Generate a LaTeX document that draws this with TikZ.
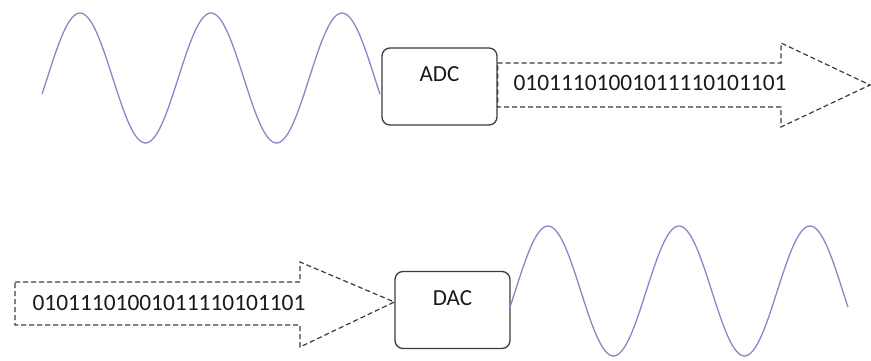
\documentclass[tikz,border=0pt]{standalone}
\usepackage{fontspec}
\setmainfont{Carlito}
\usetikzlibrary{positioning,calc}
\definecolor{wavecol}{RGB}{135,135,200}
\definecolor{linecol}{RGB}{60,60,60}
\tikzset{
  conv/.style={draw=linecol,line width=1.3pt,rounded corners=8pt,minimum width=115pt,minimum height=77pt,
    text height=15pt,text depth=25pt,inner sep=0pt,font=\fontsize{23}{26}\selectfont,text=black!90},
  bits/.style={font=\fontsize{23.4}{26}\selectfont,text=black!90,inner sep=0pt},
  wave/.style={draw=wavecol,line width=1.3pt},
  dasharrow/.style={draw=linecol,line width=1.2pt,dash pattern=on 5pt off 3pt}
}

\begin{document}
\begin{tikzpicture}[x=1pt,y=-1pt]
\useasboundingbox (0,0) rectangle (871,361);

\node[conv](adc) at (439.5,86.5) {ADC};
\node[conv](dac) at (452.5,310) {DAC};

% sine waves
\draw[wave] plot[domain=42:380,samples=150,smooth] (\x,{78-65*cos(2.748*(\x-80))});
\draw[wave] plot[domain=510:848,samples=150,smooth] (\x,{291-65*cos(2.748*(\x-548))});

% digital arrows
\coordinate (a1) at (adc.east|-0,63);
\coordinate (a2) at (781,63);
\coordinate (a3) at (781,43);
\coordinate (a4) at (870,85);
\coordinate (a5) at (781,127);
\coordinate (a6) at (781,107);
\coordinate (a7) at (adc.east|-0,107);
\draw[dasharrow](a1)--(a2)--(a3)--(a4)--(a5)--(a6)--(a7)--cycle;

\coordinate (b1) at (15,282);
\coordinate (b2) at (300,282);
\coordinate (b3) at (300,262);
\coordinate (b4) at (dac.west|-0,302);
\coordinate (b5) at (300,347);
\coordinate (b6) at (300,325);
\coordinate (b7) at (15,325);
\draw[dasharrow](b1)--(b2)--(b3)--(b4)--(b5)--(b6)--(b7)--cycle;

\node[bits](adcout) at (650,83) {01011101001011110101101};
\node[bits](dacin) at (169,303) {01011101001011110101101};

\end{tikzpicture}
\end{document}
